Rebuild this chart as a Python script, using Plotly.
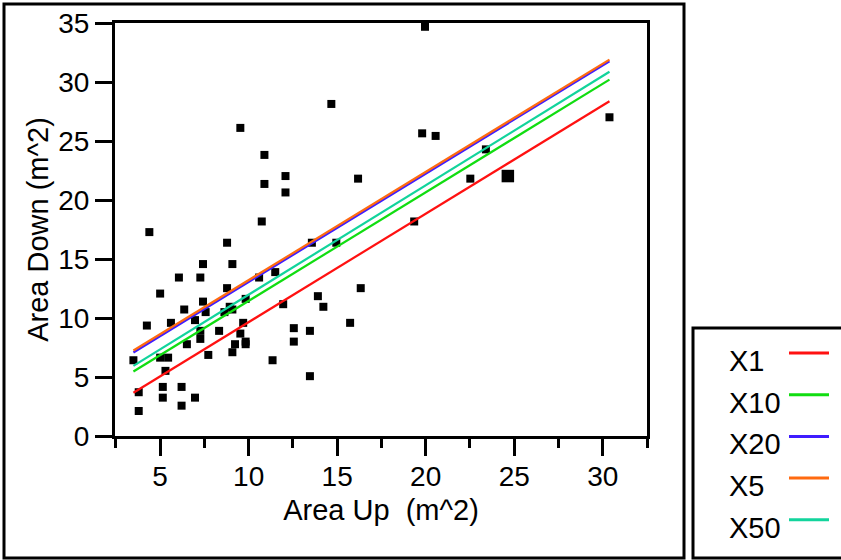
import plotly.graph_objects as go

# Measured areas (m^2): upstream vs downstream
area_up = [3.49, 3.79, 3.79, 4.25, 4.39, 5.00, 5.00, 5.45, 5.30, 5.15,
           5.15, 5.61, 6.06, 6.36, 6.51, 6.21, 6.21, 6.97, 6.97, 7.27,
           7.42, 7.42, 7.57, 7.27, 7.27, 7.72, 8.33, 8.78, 8.63, 8.78,
           9.08, 8.93, 9.08, 9.69, 9.53, 9.23, 9.08, 9.83, 9.83, 9.83,
           9.53, 10.59, 10.74, 10.89, 10.89, 11.35, 11.50, 11.95, 12.08, 12.08,
           12.55, 12.55, 13.46, 13.46, 13.57, 13.91, 14.22, 14.67, 14.95, 15.73,
           16.18, 16.33, 19.35, 19.80, 19.96, 20.56, 22.52, 23.40, 30.38]
area_down = [6.42, 3.71, 2.12, 9.36, 17.28, 12.07, 6.64, 6.64, 5.52, 4.16,
             3.25, 9.59, 13.43, 10.72, 7.78, 4.16, 2.57, 9.82, 3.25, 13.43,
             14.57, 11.39, 10.50, 8.91, 8.23, 6.87, 8.91, 12.53, 10.50, 16.38,
             14.57, 10.95, 10.72, 9.59, 8.68, 7.78, 7.10, 11.62, 8.00, 7.78,
             26.11, 13.43, 18.18, 23.82, 21.36, 6.42, 13.89, 11.17, 22.03, 20.64,
             9.14, 8.00, 8.91, 5.07, 16.38, 11.85, 10.95, 28.14, 16.38, 9.59,
             21.81, 12.53, 18.18, 25.65, 34.68, 25.43, 21.81, 24.29, 27.01]

# Highlighted observation (drawn with a larger marker)
highlight_up = [24.64]
highlight_down = [22.03]

# Fitted lines: Area Down = intercept + slope * Area Up
series_names = ["X1", "X10", "X20", "X5", "X50"]
intercepts = [0.464, 2.25, 3.87, 4.04, 2.71]
slopes = [0.9186, 0.920, 0.918, 0.917, 0.9267]
colors = ["#ff1111", "#11dd11", "#3f1cff", "#ff6a10", "#12d49c"]

x_tick_vals = [5, 10, 15, 20, 25, 30]
y_tick_vals = [0, 5, 10, 15, 20, 25, 30, 35]

FONT = "Liberation Sans, Arial, sans-serif"

fig = go.Figure()

fig.add_trace(go.Scatter(
    x=area_up, y=area_down, mode="markers",
    marker=dict(symbol="square", size=8, color="black", line=dict(width=0)),
    showlegend=False, hoverinfo="x+y",
))
fig.add_trace(go.Scatter(
    x=highlight_up, y=highlight_down, mode="markers",
    marker=dict(symbol="square", size=12.5, color="black", line=dict(width=0)),
    showlegend=False, hoverinfo="x+y",
))

all_up = area_up + highlight_up
x_lo, x_hi = min(all_up), max(all_up)
for name, b0, b1, col in zip(series_names, intercepts, slopes, colors):
    fig.add_trace(go.Scatter(
        x=[x_lo, x_hi], y=[b0 + b1 * x_lo, b0 + b1 * x_hi],
        mode="lines", line=dict(color=col, width=2.2),
        name=name, showlegend=False,
    ))

# Plot area in pixels: left 115, right 647, top 23, bottom 436
L, T, W, H = 115, 23, 532, 413


def px(xp):
    return (xp - L) / W


def py(yp):
    return (T + H - yp) / H


shapes = [
    # outer frame around the chart
    dict(type="rect", xref="paper", yref="paper",
         x0=px(4), x1=px(684), y0=py(558), y1=py(4),
         line=dict(color="black", width=3), fillcolor="rgba(0,0,0,0)", layer="above"),
    # legend box
    dict(type="rect", xref="paper", yref="paper",
         x0=px(693), x1=px(860), y0=py(558), y1=py(328),
         line=dict(color="black", width=3), fillcolor="white", layer="above"),
]
annotations = []
for i, (name, col) in enumerate(zip(series_names, colors)):
    yc = 361 + 41.7 * i
    annotations.append(dict(
        x=px(727), y=py(yc), xref="paper", yref="paper",
        text=name, showarrow=False, xanchor="left", yanchor="middle",
        font=dict(family=FONT, size=29, color="black"),
    ))
    shapes.append(dict(
        type="line", xref="paper", yref="paper",
        x0=px(789), x1=px(829), y0=py(yc - 8), y1=py(yc - 8),
        line=dict(color=col, width=3), layer="above",
    ))

axis_common = dict(
    showline=True, linecolor="black", linewidth=3, mirror=True,
    ticks="outside", ticklen=17, tickwidth=3, tickcolor="black",
    showgrid=False, zeroline=False, automargin=False,
    tickfont=dict(family=FONT, size=28, color="black"),
)

fig.update_layout(
    width=841, height=560,
    margin=dict(l=L, r=841 - L - W, t=T, b=560 - T - H),
    paper_bgcolor="white", plot_bgcolor="white",
    font=dict(family=FONT, color="black"),
    xaxis=dict(
        range=[2.45, 32.5], tickvals=x_tick_vals, ticklabelstandoff=-4,
        minor=dict(dtick=2.5, tick0=0, ticks="outside", ticklen=9, tickwidth=3, tickcolor="black"),
        title=dict(text="Area Up\u00a0 (m^2)", font=dict(family=FONT, size=29, color="black"), standoff=10),
        **axis_common,
    ),
    yaxis=dict(
        range=[0, 35], tickvals=y_tick_vals,
        title=dict(text="Area Down (m^2)", font=dict(family=FONT, size=29, color="black"), standoff=2),
        **axis_common,
    ),
    shapes=shapes,
    annotations=annotations,
    showlegend=False,
)

fig.write_html("out.html")
